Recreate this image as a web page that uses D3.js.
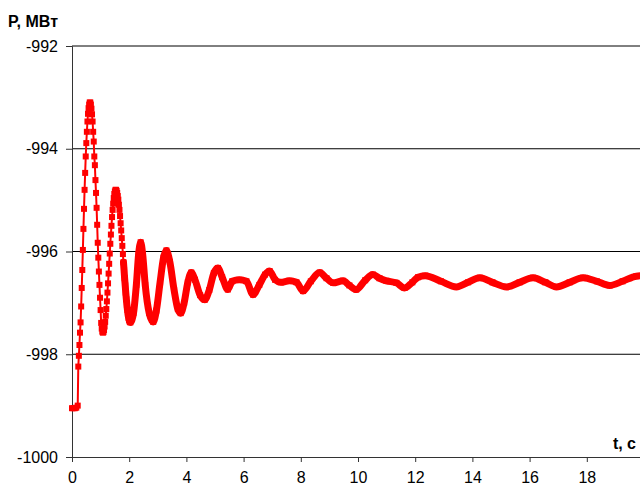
<!DOCTYPE html>
<html lang="ru">
<head>
<meta charset="UTF-8">
<title>P(t)</title>
<script src="https://d3js.org/d3.v7.min.js"></script>
<style>
  body { margin: 0; background: #fff; }
  svg { display: block; font-family: "Liberation Sans", Arial, sans-serif; }
  .tick text { font-size: 16px; fill: #000; }
</style>
</head>
<body>
<div id="chart"></div>
<script>
// time, s
const times = [
  0, 0.05, 0.10, 0.15, 0.20,
  0.22, 0.24, 0.26, 0.28, 0.30, 0.32, 0.34, 0.36, 0.38, 0.40, 0.42, 0.44, 0.46, 0.48, 0.50, 0.52, 0.54,
  0.56, 0.58, 0.60, 0.62, 0.64, 0.66, 0.68, 0.70,
  0.72, 0.74, 0.76, 0.78, 0.80, 0.82, 0.84, 0.86, 0.88, 0.90, 0.92, 0.94, 0.96, 0.98, 1.00, 1.02,
  1.04, 1.06, 1.08,
  1.10, 1.12, 1.14, 1.16, 1.18, 1.20, 1.22, 1.24, 1.26, 1.28, 1.30, 1.32, 1.34, 1.36, 1.38, 1.40,
  1.42, 1.44, 1.46, 1.48, 1.50, 1.52, 1.54,
  1.56, 1.58, 1.60, 1.62, 1.64, 1.66, 1.68, 1.70, 1.72, 1.74, 1.76, 1.78, 1.80, 1.82, 1.84, 1.86,
  1.88, 1.90, 1.92, 1.94, 1.96, 1.98, 2.00, 2.02, 2.04,
  2.15, 2.25, 2.33, 2.40, 2.47, 2.56, 2.70, 2.84, 2.95, 3.08, 3.20, 3.30, 3.42, 3.57, 3.70, 3.80,
  3.92, 4.05, 4.17, 4.30, 4.48, 4.64, 4.80, 4.96, 5.10, 5.25, 5.45, 5.60, 5.85, 6.10, 6.33, 6.55,
  6.75, 6.91, 7.10, 7.30, 7.60, 7.85, 8.08, 8.35, 8.66, 8.90, 9.13, 9.48, 9.70, 9.94, 10.25, 10.52,
  10.75, 10.99, 11.34, 11.63, 11.90, 12.10, 12.35, 12.90, 13.44, 13.85, 14.26, 14.70, 15.19, 15.65,
  16.12, 16.55, 16.94, 17.40, 17.87, 18.35, 18.80, 19.25, 19.73, 20.0
];

// active power, MW
const power = [
  -999.05, -999.05, -999.05, -999.04, -999.00,
  -998.24, -998.03, -997.82, -997.58, -997.38, -997.07, -996.71, -996.36, -995.97, -995.56, -995.17, -994.80, -994.47, -994.15, -993.89, -993.67, -993.47,
  -993.32, -993.21, -993.14, -993.10, -993.10, -993.14, -993.22, -993.33,
  -993.47, -993.67, -993.86, -994.15, -994.32, -994.61, -994.86, -995.15, -995.48, -995.83, -996.12, -996.39, -996.65, -996.90, -997.14, -997.39,
  -997.50, -997.56, -997.58,
  -997.57, -997.53, -997.46, -997.37, -997.25, -997.12, -996.97, -996.80, -996.62, -996.43, -996.24, -996.04, -995.85, -995.67, -995.50, -995.33,
  -995.19, -995.07, -994.96, -994.88, -994.83, -994.80, -994.80,
  -994.82, -994.86, -994.92, -994.99, -995.09, -995.19, -995.31, -995.45, -995.59, -995.74, -995.89, -996.05, -996.21, -996.36, -996.52, -996.66,
  -996.80, -996.93, -997.04, -997.14, -997.23, -997.29, -997.34, -997.37, -997.38,
  -997.20, -996.65, -996.05, -995.82, -996.05, -996.65, -997.20, -997.37, -997.15, -996.60, -996.12, -995.98, -996.20, -996.75, -997.12, -997.20,
  -997.00, -996.60, -996.41, -996.55, -996.85, -996.94, -996.75, -996.42, -996.32, -996.50, -996.74, -996.58, -996.55, -996.58, -996.84, -996.65,
  -996.45, -996.38, -996.55, -996.60, -996.57, -996.60, -996.77, -996.58, -996.41, -996.52, -996.61, -996.57, -996.66, -996.74, -996.56, -996.45,
  -996.52, -996.57, -996.61, -996.71, -996.60, -996.50, -996.47, -996.58, -996.69, -996.60, -996.51, -996.60, -996.69, -996.60,
  -996.51, -996.60, -996.69, -996.60, -996.51, -996.58, -996.66, -996.58, -996.48, -996.47
];

const xTicks = [0, 2, 4, 6, 8, 10, 12, 14, 16, 18];
const yTicks = [-1000, -998, -996, -994, -992];
const yTitle = "P, МВт";
const xTitle = "t, c";

const W = 640, H = 493;
const margin = { top: 46, left: 72, bottom: 36 };

const data = times.map((t, i) => ({ t: t, p: power[i] }));

const x = d3.scaleLinear().domain([0, 20]).range([margin.left, 644]);
const y = d3.scaleLinear().domain([-1000, -992]).range([H - margin.bottom, margin.top]);

const svg = d3.select("#chart").append("svg")
  .attr("width", W)
  .attr("height", H);

// gridlines
svg.append("g")
  .selectAll("line")
  .data(yTicks.filter(d => d !== -1000))
  .enter().append("line")
  .attr("x1", x(0)).attr("x2", W)
  .attr("y1", d => y(d)).attr("y2", d => y(d))
  .attr("stroke", "#000")
  .attr("stroke-width", 1);

// y axis
const yAxis = svg.append("g")
  .attr("transform", `translate(${x(0)},0)`)
  .call(d3.axisLeft(y).tickValues(yTicks).tickSize(6).tickPadding(8).tickFormat(d => String(d)));
yAxis.select(".domain").attr("stroke", "#333");
yAxis.selectAll(".tick line").attr("stroke", "#333");

// x axis
const xAxis = svg.append("g")
  .attr("transform", `translate(0,${y(-1000)})`)
  .call(d3.axisBottom(x).tickValues(xTicks).tickSize(5).tickPadding(6).tickFormat(d => String(d)));
xAxis.select(".domain").attr("stroke", "#333");
xAxis.selectAll(".tick line").attr("stroke", "#333");
xAxis.selectAll(".tick text").attr("dy", "0.95em");

// series
const plot = svg.append("g");

plot.append("path")
  .datum(data)
  .attr("fill", "none")
  .attr("stroke", "#ff0000")
  .attr("stroke-width", 2)
  .attr("d", d3.line().x(d => x(d.t)).y(d => y(d.p)));

plot.append("path")
  .datum(data.filter(d => d.t >= 1.8))
  .attr("fill", "none")
  .attr("stroke", "#ff0000")
  .attr("stroke-width", 7)
  .attr("stroke-linejoin", "round")
  .attr("stroke-linecap", "round")
  .attr("d", d3.line().curve(d3.curveMonotoneX).x(d => x(d.t)).y(d => y(d.p)));

plot.selectAll("rect.mark")
  .data(data)
  .enter().append("rect")
  .attr("class", "mark")
  .attr("x", d => x(d.t) - 3)
  .attr("y", d => y(d.p) - 3)
  .attr("width", 6)
  .attr("height", 6)
  .attr("fill", "#ff0000");

// titles
svg.append("text")
  .attr("x", 8)
  .attr("y", 27)
  .style("font-size", "16px")
  .style("font-weight", "bold")
  .text(yTitle);

svg.append("text")
  .attr("x", 636)
  .attr("y", 449)
  .attr("text-anchor", "end")
  .style("font-size", "16px")
  .style("font-weight", "bold")
  .text(xTitle);
</script>
</body>
</html>
